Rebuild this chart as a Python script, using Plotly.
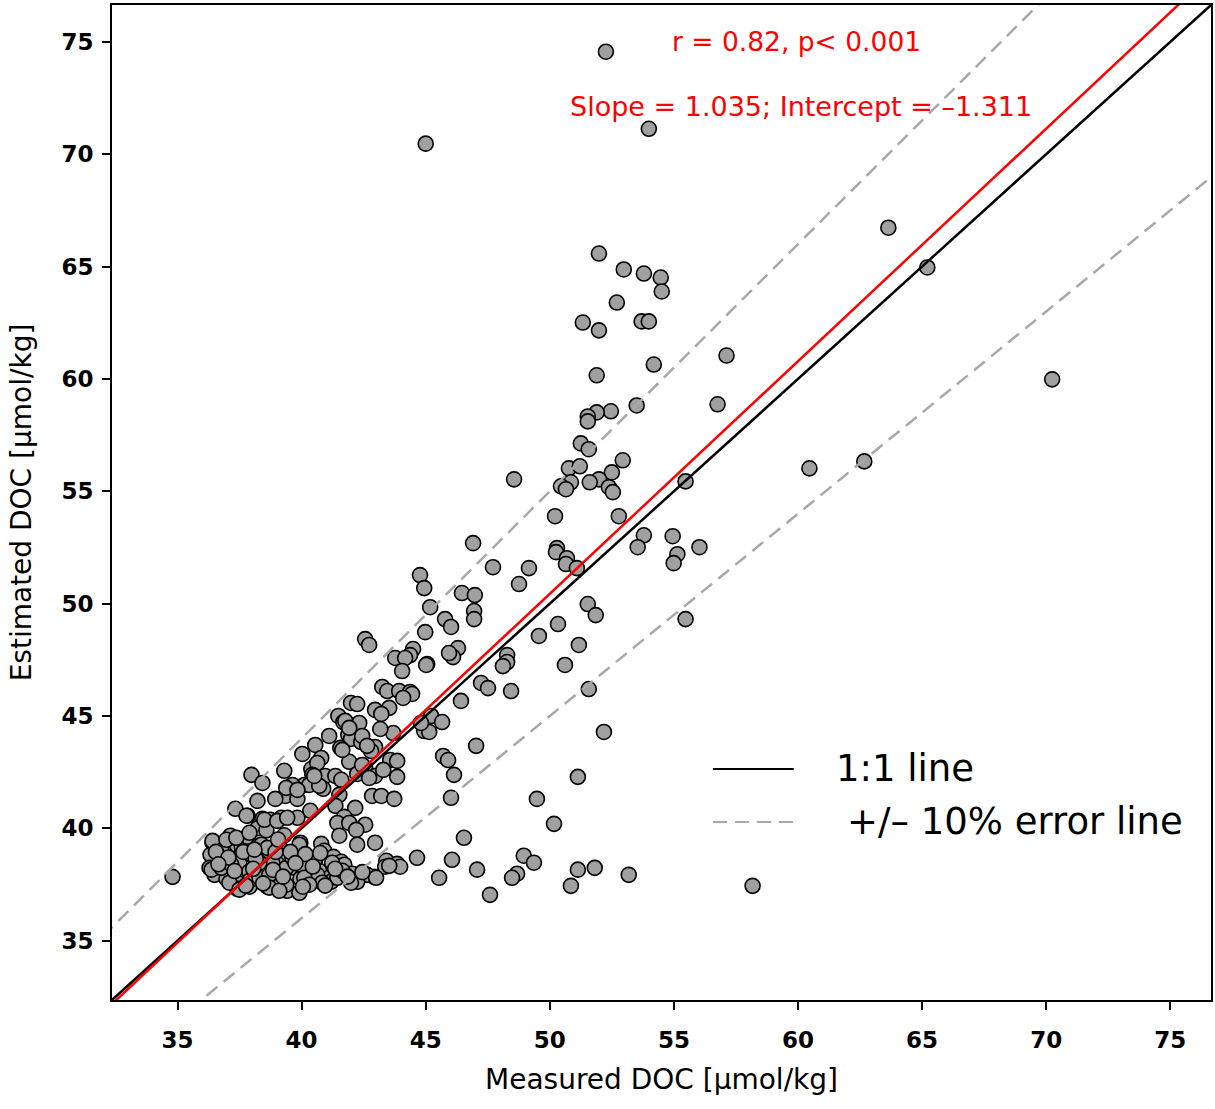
import plotly.graph_objects as go

# Measured vs. estimated dissolved organic carbon (µmol/kg)
measured = [
    52.26, 45.00, 53.99, 63.64, 65.21, 70.24, 51.98, 52.98, 53.79, 54.47,
    54.51, 52.70, 51.33, 53.70, 53.99, 51.98, 57.12, 54.19, 51.89, 56.76,
    53.50, 52.46, 51.89, 51.53, 51.53, 51.25, 51.57, 52.94, 50.77, 60.46,
    62.67, 52.50, 48.56, 51.98, 51.61, 50.85, 50.45, 50.65, 55.47, 52.38,
    52.54, 50.21, 52.78, 46.91, 53.79, 54.95, 50.29, 50.25, 53.54, 56.03,
    55.14, 54.99, 50.69, 50.65, 51.09, 47.71, 49.16, 44.77, 44.94, 48.76,
    46.46, 46.98, 45.18, 51.53, 46.95, 46.95, 51.85, 55.47, 45.78, 50.33,
    46.02, 42.56, 42.72, 44.98, 49.56, 51.17, 46.30, 46.10, 44.49, 44.37,
    43.77, 44.17, 48.28, 48.28, 48.11, 50.61, 45.06, 44.05, 47.23, 47.51,
    43.25, 43.45, 43.93, 44.37, 44.45, 48.44, 51.57, 44.09, 41.99, 42.24,
    43.53, 42.96, 46.42, 41.48, 43.21, 45.22, 45.66, 41.68, 42.32, 44.94,
    45.14, 52.18, 41.11, 41.88, 41.99, 42.40, 43.69, 43.17, 40.55, 41.56,
    42.96, 42.80, 47.03, 40.03, 40.79, 41.92, 43.57, 43.85, 45.70, 45.90,
    39.30, 40.39, 40.95, 41.36, 41.60, 42.24, 42.56, 42.96, 43.29, 43.85,
    46.14, 51.13, 37.98, 39.59, 38.42, 40.11, 40.87, 41.52, 39.34, 39.83,
    38.94, 38.22, 42.84, 43.21, 43.73, 46.02, 49.48, 37.33, 40.35, 41.36,
    42.16, 37.82, 38.42, 38.74, 39.18, 39.83, 41.72, 41.44, 41.92, 42.56,
    50.17, 38.22, 38.58, 39.30, 37.13, 37.57, 37.82, 36.41, 42.20, 41.52,
    46.54, 42.96, 39.95, 38.26, 37.01, 40.79, 42.24, 40.91, 36.33, 36.89,
    37.89, 38.66, 39.46, 44.65, 46.06, 48.95, 49.36, 37.17, 37.49, 38.26,
    39.02, 40.55, 41.28, 41.60, 41.72, 43.41, 43.85, 43.97, 43.37, 36.29,
    36.81, 37.89, 39.71, 40.71, 40.23, 42.04, 42.16, 42.92, 42.64, 45.54,
    47.07, 48.68, 48.48, 51.13, 51.81, 53.18, 34.80, 36.49, 36.97, 37.37,
    38.26, 38.78, 39.18, 39.95, 40.31, 41.11, 41.19, 41.44, 42.24, 37.41,
    37.90, 38.62, 39.42, 39.91, 50.85, 47.59, 58.17, 41.76, 44.81, 41.92,
    42.44, 41.64, 42.64, 40.63, 42.44, 40.43, 42.72, 39.63, 40.31, 40.71,
    45.94, 45.02, 51.21, 39.38, 39.83, 40.51, 36.41, 36.77, 36.97, 37.37,
    37.90, 37.78, 38.50, 39.02, 39.42, 37.98, 38.38, 38.62, 39.10, 39.91,
    36.37, 36.77, 37.17, 37.09, 37.49, 37.90, 38.30, 38.70, 39.38, 39.38,
    38.70, 39.10, 38.82, 39.63, 40.03, 38.30, 40.51, 41.23, 41.64, 40.63,
    40.11, 40.83, 41.99, 40.31, 43.00, 43.53, 36.55, 37.05, 37.65, 38.15,
    38.95, 39.55, 40.15, 40.75, 36.65, 37.30, 38.05, 38.85, 39.75, 40.45,
    41.35, 42.45, 37.75, 38.45, 39.25, 40.05, 40.95, 41.85, 38.10, 39.05,
]
estimated = [
    74.56, 70.47, 71.13, 66.73, 64.96, 59.98, 65.58, 64.87, 64.69, 64.51,
    63.89, 63.40, 62.51, 62.56, 62.56, 62.16, 61.04, 60.64, 60.16, 58.87,
    58.82, 58.56, 58.51, 58.33, 58.11, 57.13, 56.87, 56.38, 56.02, 56.02,
    56.33, 55.84, 55.53, 55.53, 55.40, 55.40, 55.22, 55.09, 55.44, 55.18,
    54.96, 53.89, 53.89, 52.69, 53.04, 53.00, 52.47, 52.29, 52.51, 52.51,
    52.20, 51.80, 52.02, 51.76, 51.58, 51.62, 51.58, 51.27, 50.69, 50.87,
    50.47, 50.38, 49.84, 49.98, 49.67, 49.31, 49.49, 49.31, 49.31, 49.09,
    48.96, 48.42, 48.16, 48.73, 48.56, 48.16, 48.02, 47.62, 47.98, 47.71,
    47.58, 47.58, 47.71, 47.40, 47.22, 47.27, 47.31, 47.00, 46.47, 46.24,
    46.29, 46.11, 46.11, 46.07, 45.98, 46.11, 46.20, 45.80, 45.58, 45.53,
    45.36, 45.27, 45.67, 45.00, 45.09, 45.00, 44.73, 44.73, 44.69, 44.33,
    44.29, 44.29, 44.11, 44.16, 43.98, 43.84, 44.24, 44.42, 43.71, 43.58,
    43.62, 43.44, 43.67, 43.31, 43.13, 42.96, 43.04, 43.00, 43.22, 43.04,
    42.56, 42.64, 42.33, 42.33, 42.16, 42.42, 42.69, 42.33, 42.60, 42.29,
    42.38, 42.29, 42.38, 41.84, 42.02, 41.93, 41.76, 41.49, 41.44, 41.31,
    41.31, 41.22, 41.44, 41.44, 41.31, 41.36, 41.31, 40.87, 40.78, 41.00,
    40.91, 40.56, 40.42, 40.38, 40.47, 40.47, 40.51, 40.24, 40.24, 40.16,
    40.20, 40.00, 39.91, 39.69, 39.67, 39.49, 39.62, 39.36, 39.93, 39.67,
    39.58, 39.36, 39.36, 39.22, 39.09, 39.31, 39.27, 39.00, 38.82, 38.91,
    38.87, 38.82, 38.78, 38.69, 38.60, 38.78, 38.47, 38.60, 38.47, 38.51,
    38.42, 38.60, 38.73, 38.51, 38.38, 38.56, 38.42, 38.29, 38.29, 38.24,
    38.16, 38.07, 38.24, 38.11, 37.98, 37.98, 37.71, 37.84, 37.93, 37.80,
    38.16, 37.98, 37.80, 38.16, 38.24, 37.93, 37.84, 37.93, 37.76, 37.62,
    37.80, 37.62, 37.53, 37.76, 37.67, 37.80, 37.62, 37.80, 37.62, 37.31,
    37.40, 37.40, 37.22, 37.13, 37.44, 37.04, 37.44, 44.78, 44.69, 44.47,
    44.11, 43.49, 43.67, 42.91, 42.82, 42.38, 42.24, 41.93, 41.93, 41.89,
    47.80, 47.27, 56.11, 41.80, 41.71, 42.33, 39.44, 39.00, 39.49, 39.58,
    39.80, 40.56, 40.38, 40.33, 40.47, 38.82, 39.27, 39.13, 39.27, 39.27,
    38.16, 38.24, 38.38, 37.58, 37.27, 37.67, 37.80, 37.93, 38.24, 37.49,
    37.36, 37.22, 38.47, 38.69, 38.33, 38.47, 38.56, 38.47, 38.11, 37.93,
    37.80, 37.58, 37.58, 37.49, 37.80, 38.33, 38.95, 38.70, 38.95, 38.65,
    38.95, 38.95, 38.85, 38.90, 38.40, 38.10, 38.20, 38.15, 38.45, 38.30,
    38.20, 38.05, 37.45, 37.55, 37.85, 37.40, 37.45, 37.85, 39.05, 39.50,
]

# Regression statistics
fit_slope = 1.035
fit_intercept = -1.311
fit_r = 0.82
error_fraction = 0.10

axis_range = [32.36, 76.64]
tick_values = [35, 40, 45, 50, 55, 60, 65, 70, 75]

FONT = "DejaVu Sans"

fig = go.Figure()

fig.add_trace(go.Scatter(
    x=measured, y=estimated, mode="markers",
    marker=dict(size=15, color="#a0a0a0", line=dict(color="black", width=1.6)),
    hoverinfo="x+y",
))

line_x = [axis_range[0] - 1, axis_range[1] + 1]

# +/- 10 % error lines
for f in (1 + error_fraction, 1 - error_fraction):
    fig.add_trace(go.Scatter(
        x=line_x, y=[f * v for v in line_x], mode="lines",
        line=dict(color="#a8a8a8", width=2.5, dash="14px,8px"),
        hoverinfo="skip",
    ))

# 1:1 line
fig.add_trace(go.Scatter(
    x=line_x, y=line_x, mode="lines",
    line=dict(color="black", width=2.5), hoverinfo="skip",
))

# Regression line
fig.add_trace(go.Scatter(
    x=line_x, y=[fit_slope * v + fit_intercept for v in line_x], mode="lines",
    line=dict(color="#ff0000", width=2.5), hoverinfo="skip",
))

axis_common = dict(
    range=axis_range, tickvals=tick_values, ticks="outside", ticklen=8,
    tickwidth=2, tickcolor="black", showline=True, linecolor="black",
    linewidth=2, mirror=True, showgrid=False, zeroline=False,
    tickfont=dict(family=FONT, size=23, color="black", weight="bold"),
)

fig.update_xaxes(
    **axis_common,
    ticklabelstandoff=10,
    title=dict(text="Measured DOC [μmol/kg]", font=dict(family=FONT, size=28, color="black"),
               standoff=18),
)
fig.update_yaxes(
    **axis_common,
    ticklabelstandoff=4,
    title=dict(text="Estimated DOC [μmol/kg]", font=dict(family=FONT, size=28, color="black"),
               standoff=22),
)

red_font = dict(family=FONT, size=26.5, color="#ff0000")
fig.add_annotation(
    xref="paper", yref="paper", x=0.623, y=0.9638, xanchor="center", yanchor="middle",
    text=f"r = {fit_r:.2f}, p< 0.001", showarrow=False, font=red_font,
)
fig.add_annotation(
    xref="paper", yref="paper", x=0.627, y=0.8975, xanchor="center", yanchor="middle",
    text=f"Slope = {fit_slope:.3f}; Intercept = \u2013{abs(fit_intercept):.3f}",
    showarrow=False, font=dict(family=FONT, size=27, color="#ff0000"),
)

# Hand-drawn key for the reference lines
legend_font = dict(family=FONT, size=37, color="black")
fig.add_shape(type="line", xref="paper", yref="paper", x0=0.5468, x1=0.6203,
              y0=0.2322, y1=0.2322, line=dict(color="black", width=2))
fig.add_shape(type="line", xref="paper", yref="paper", x0=0.5468, x1=0.6203,
              y0=0.1789, y1=0.1789, line=dict(color="#a8a8a8", width=2, dash="14px,8px"))
fig.add_annotation(xref="paper", yref="paper", x=0.6567, y=0.2322, xanchor="left",
                   yanchor="middle", text="1:1 line", showarrow=False, font=legend_font)
fig.add_annotation(xref="paper", yref="paper", x=0.6667, y=0.1789, xanchor="left",
                   yanchor="middle", text="+/\u2013 10% error line", showarrow=False,
                   font=legend_font)

fig.update_layout(
    width=1215, height=1109,
    margin=dict(l=112, r=2, t=5, b=109),
    plot_bgcolor="white", paper_bgcolor="white",
    showlegend=False,
)

fig.write_html("out.html")
